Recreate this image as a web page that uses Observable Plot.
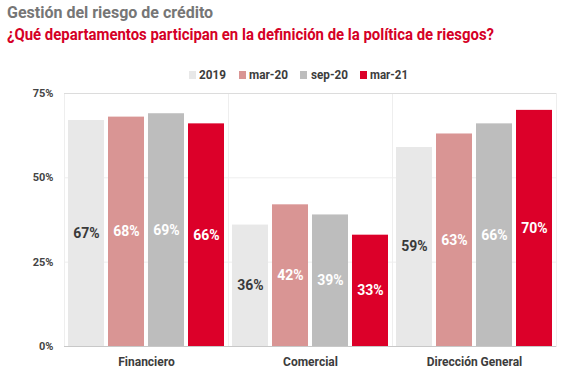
<!DOCTYPE html>
<html>
<head>
<meta charset="utf-8">
<script src="https://cdn.jsdelivr.net/npm/d3@7"></script>
<script src="https://cdn.jsdelivr.net/npm/@observablehq/plot@0.6"></script>
<style>
  html, body { margin: 0; padding: 0; background: #fff; }
  body { width: 573px; height: 377px; position: relative; overflow: hidden; font-family: Roboto, "Noto Sans", sans-serif; }
  .fit { position: absolute; left: 7px; white-space: nowrap; font-weight: bold; transform-origin: 0 50%; }
  #title { top: 3px; font-size: 16px; color: #767676; }
  #subtitle { top: 24px; font-size: 17px; color: #d50026; }
  #legend { position: absolute; top: 67px; left: 0; width: 573px; height: 16px; }
  .sw { position: absolute; top: 4px; width: 7px; height: 8px; }
  .lt { position: absolute; top: 0; line-height: 16px; font-size: 12px; font-weight: bold; color: #3c3c3c; white-space: nowrap; transform-origin: 0 50%; }
  #chart { position: absolute; left: 0; top: 80px; }
</style>
</head>
<body>
<div id="title" class="fit">Gestión del riesgo de crédito</div>
<div id="subtitle" class="fit">¿Qué departamentos participan en la definición de la política de riesgos?</div>
<div id="legend"></div>
<div id="chart"></div>
<script>
const categories = ["Financiero", "Comercial", "Dirección General"];
const series = ["2019", "mar-20", "sep-20", "mar-21"];
const colors = ["#e8e8e8", "#d99594", "#bdbdbd", "#dc0029"];
const v2019 = [67, 36, 59];
const vMar20 = [68, 42, 63];
const vSep20 = [69, 39, 66];
const vMar21 = [66, 33, 70];
const yTicks = [0, 25, 50, 75];

const seriesValues = [v2019, vMar20, vSep20, vMar21];
const data = [];
categories.forEach((c, i) => series.forEach((s, j) => data.push({cat: c, series: s, value: seriesValues[j][i]})));

function fitEl(el, target) {
  const w = el.getBoundingClientRect().width;
  if (w > target) el.style.transform = `scaleX(${target / w})`;
}
fitEl(document.getElementById("title"), 246);
fitEl(document.getElementById("subtitle"), 487);

// legend
const swX = [189, 239, 300, 360];
const txX = [199, 249, 311, 370];
const txW = [27, 39, 37, 38];
const legend = document.getElementById("legend");
series.forEach((s, j) => {
  const sw = document.createElement("div");
  sw.className = "sw";
  sw.style.left = swX[j] + "px";
  sw.style.background = colors[j];
  legend.appendChild(sw);
  const t = document.createElement("div");
  t.className = "lt";
  t.style.left = txX[j] + "px";
  t.textContent = s;
  legend.appendChild(t);
  fitEl(t, txW[j]);
});

const chart = Plot.plot({
  width: 573,
  height: 297,
  marginTop: 13,
  marginBottom: 31,
  marginLeft: 63,
  marginRight: 16,
  style: {fontFamily: "Roboto, 'Noto Sans', sans-serif", fontWeight: "bold", color: "#3c3c3c", background: "transparent"},
  fx: {domain: categories, padding: 0, label: null, axis: null},
  x: {domain: series, paddingInner: 0.0976, paddingOuter: 0.057, axis: null},
  y: {domain: [0, 75], label: null, axis: null},
  color: {domain: series, range: colors},
  marks: [
    Plot.frame({stroke: "#eeeeee"}),
    Plot.ruleY([25, 50], {stroke: "#eeeeee"}),
    Plot.ruleY([75], {stroke: "#dcdcdc"}),
    Plot.barY(data, {fx: "cat", x: "series", y: "value", fill: "series"}),
    Plot.ruleY([0], {stroke: "#c8c8c8"}),
    Plot.text(data, {filter: d => d.series === "2019", fx: "cat", x: "series", y: d => d.value / 2, text: d => d.value + "%", fill: "#3a3a3a", fontSize: 14, fontWeight: "bold"}),
    Plot.text(data, {filter: d => d.series !== "2019", fx: "cat", x: "series", y: d => d.value / 2, text: d => d.value + "%", fill: "#ffffff", fontSize: 14, fontWeight: "bold"}),
    Plot.axisY(yTicks, {anchor: "left", tickSize: 0, tickPadding: 11, tickFormat: d => d + "%", fontSize: 11, label: null, fill: "#444"}),
    Plot.axisFx({anchor: "bottom", tickSize: 0, tickPadding: 11, fontSize: 12, label: null, fill: "#3c3c3c"})
  ]
});
document.getElementById("chart").appendChild(chart);
</script>
</body>
</html>
